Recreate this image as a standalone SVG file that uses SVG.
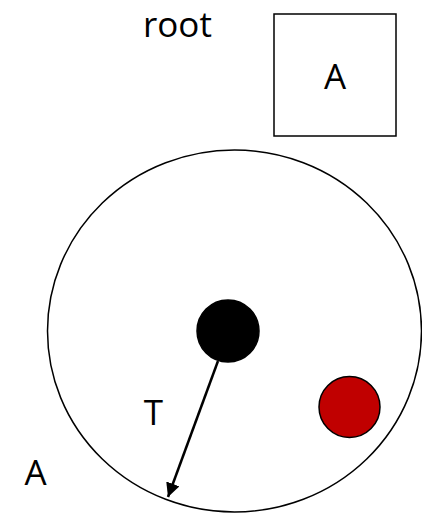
<svg xmlns="http://www.w3.org/2000/svg" width="422" height="514" viewBox="0 0 422 514">
<style>
.lbl{font-family:"Open Sans","Liberation Sans",sans-serif;font-size:35px;fill:#000}
.shape{stroke:#000;stroke-width:1.5}
</style>
<defs>
<marker id="arr" markerUnits="userSpaceOnUse" markerWidth="14" markerHeight="14" viewBox="0 0 14 14" refX="14" refY="7" orient="auto">
<path d="M0,0 L14,7 L0,14 Z" fill="#000"/>
</marker>
</defs>
<rect width="422" height="514" fill="#fff"/>
<g id="root-label"><text class="lbl" x="143" y="37">root</text></g>
<g id="box-A">
<rect class="shape" x="274" y="14" width="122" height="122" fill="#fff"/>
<text class="lbl" x="335" y="89" text-anchor="middle">A</text>
</g>
<g id="region-A">
<ellipse class="shape" cx="234.5" cy="331" rx="187" ry="181" fill="none"/>
<text class="lbl" x="35.5" y="485" text-anchor="middle">A</text>
</g>
<g id="black-node"><circle class="shape" cx="228" cy="331" r="31" fill="#000"/></g>
<g id="red-node"><circle class="shape" cx="349.5" cy="407" r="30.5" fill="#C00000"/></g>
<g id="t-label"><text class="lbl" x="153.5" y="425" text-anchor="middle">T</text></g>
<g id="connectors">
<line x1="218" y1="361" x2="168" y2="497" stroke="#000" stroke-width="2.5" marker-end="url(#arr)"/>
</g>
</svg>
